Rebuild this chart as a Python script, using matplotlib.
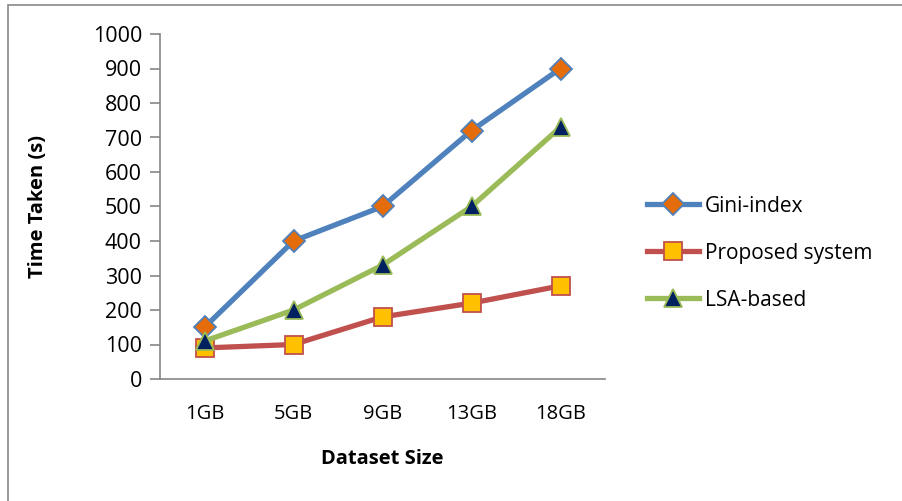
import numpy as np
import matplotlib.pyplot as plt
from matplotlib.patches import Rectangle

sizes = ['1GB', '5GB', '9GB', '13GB', '18GB']
gini = [150, 400, 500, 720, 900]
proposed = [90, 100, 180, 220, 270]
lsa = [110, 200, 330, 500, 730]

plt.rcParams['font.family'] = ['Open Sans', 'DejaVu Sans']

fig = plt.figure(figsize=(9.02, 5.01), dpi=100)
ax = fig.add_axes([160/902, 1 - 379/501, 445/902, 345/501])

x = np.arange(len(sizes))
ax.plot(x, gini, color='#4F81BD', lw=3.8, marker='D', markersize=11,
        markerfacecolor='#E46C0A', markeredgecolor='#4F81BD', markeredgewidth=1.3,
        label='Gini-index', zorder=3)
ax.plot(x, proposed, color='#C0504D', lw=3.8, marker='s', markersize=13,
        markerfacecolor='#FFC000', markeredgecolor='#C0504D', markeredgewidth=1.3,
        label='Proposed system', zorder=3)
ax.plot(x, lsa, color='#9BBB59', lw=3.8, marker='^', markersize=13,
        markerfacecolor='#002060', markeredgecolor='#9BBB59', markeredgewidth=1.3,
        label='LSA-based', zorder=4)

ax.set_xlim(-0.5, 4.5)
ax.set_ylim(0, 1000)
ax.set_yticks(range(0, 1001, 100))
ax.set_xticks(x)
ax.set_xticklabels(sizes)
for s in ['top', 'right']:
    ax.spines[s].set_visible(False)
for s in ['left', 'bottom']:
    ax.spines[s].set_color('#868686')
    ax.spines[s].set_linewidth(1.2)
ax.tick_params(axis='y', length=7, width=1.2, color='#868686', labelsize=15.5, pad=6)
ax.tick_params(axis='x', length=0, labelsize=14.5, pad=18)
ax.set_xlabel('Dataset Size', fontsize=14.5, fontweight='bold', labelpad=18)
ax.set_ylabel('Time Taken (s)', fontsize=14.5, fontweight='bold', labelpad=32)

ax.legend(loc='center left', bbox_to_anchor=(1.094, 0.365), frameon=False,
          fontsize=15, handlelength=2.5, handletextpad=0.3, labelspacing=1.25,
          borderpad=0.0, borderaxespad=0.0)

fig.patches.append(Rectangle((8/902, -0.1), 1.2, 1 - 5/501 + 0.1,
                             transform=fig.transFigure, fill=False,
                             edgecolor='#888888', lw=1.2))

plt.savefig('out.png', dpi=100)
